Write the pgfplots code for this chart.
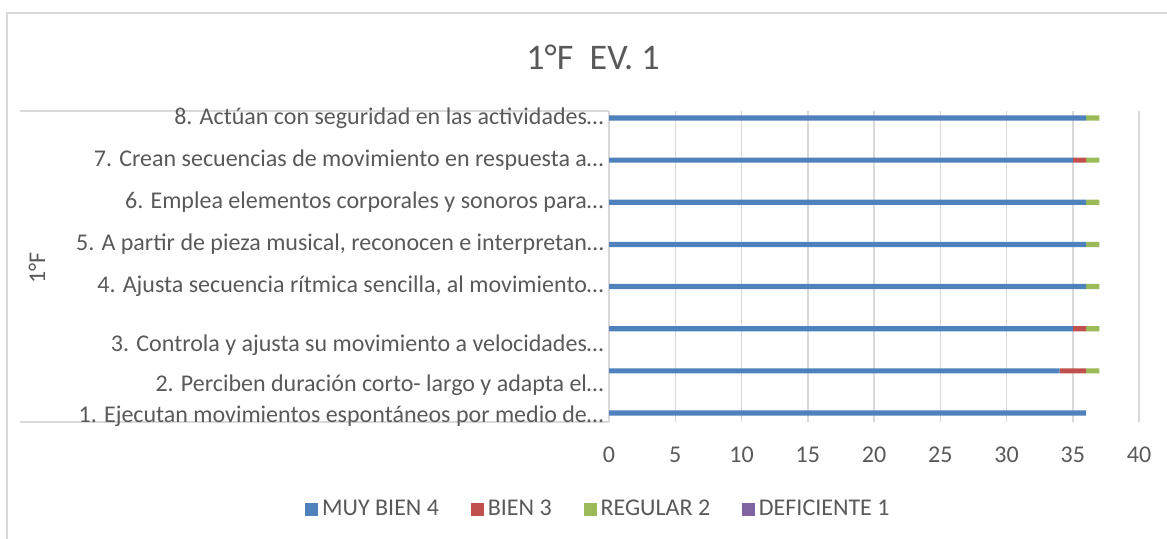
\documentclass[border=0pt]{standalone}
\usepackage{pgfplots}
\pgfplotsset{compat=1.18}
\usepackage{fontspec}
\setmainfont{Carlito}
\definecolor{cblue}{HTML}{4F81BD}
\definecolor{cred}{HTML}{C0504D}
\definecolor{cgreen}{HTML}{9BBB59}
\definecolor{cpurple}{HTML}{8064A2}
\definecolor{ctext}{HTML}{595959}
\definecolor{cgrid}{HTML}{D9D9D9}
\begin{document}
\begin{tikzpicture}
\path[use as bounding box] (0pt,0pt) rectangle (583.5pt,-269pt);
\draw[cgrid, line width=1pt] (3.5pt,-275pt) -- (3.5pt,-6.5pt) -- (590pt,-6.5pt);
\node[text=ctext, font=\fontsize{18}{21}\selectfont] at (296.5pt,-28.5pt) {1°F\ \ EV. 1};
\node[text=ctext, font=\fontsize{12}{14}\selectfont, rotate=90] at (18.5pt,-134pt) {1°F};
\draw[cgrid, line width=0.75pt] (10pt,-55.5pt) -- (304.5pt,-55.5pt);
\draw[cgrid, line width=0.75pt] (10pt,-211pt) -- (304.5pt,-211pt);
\begin{axis}[
  at={(304.5pt,-211pt)}, anchor=south west,
  scale only axis, width=265pt, height=155.5pt,
  xbar stacked, bar width=2.6pt,
  xmin=0, xmax=40, ymin=0.786, ymax=8.166,
  xtick={0,5,...,40},
  ytick={0.93,1.65,2.62,4,5,6,7,8},
  yticklabels={
    1. Ejecutan movimientos espontáneos por medio de…,
    2. Perciben duración corto- largo y adapta el…,
    3. Controla y ajusta su movimiento a velocidades…,
    4. Ajusta secuencia rítmica sencilla{,} al movimiento…,
    5. A partir de pieza musical{,} reconocen e interpretan…,
    6. Emplea elementos corporales y sonoros para…,
    7. Crean secuencias de movimiento en respuesta a…,
    8. Actúan con seguridad en las actividades…},
  major tick length=0pt,
  axis line style={draw=none},
  xmajorgrids, major grid style={cgrid, line width=0.75pt},
  /pgf/number format/assume math mode=true,
  tick label style={text=ctext, font=\fontsize{12}{14}\selectfont},
  yticklabel style={inner xsep=0pt, xshift=-2.5pt},
  xticklabel style={yshift=-9pt},
  legend columns=4,
  legend style={at={(axis description cs:-0.018,-0.28)}, anchor=center, draw=none,
    font=\fontsize{12}{14}\selectfont, text=ctext,
    /tikz/every even column/.append style={column sep=14pt}},
  legend image code/.code={\path[#1, draw=none] (0pt,-3.2pt) rectangle (6.4pt,3.2pt);},
]
\addplot[fill=cblue, draw=none] coordinates {(36,1) (34,2) (35,3) (36,4) (36,5) (36,6) (35,7) (36,8)};
\addplot[fill=cred, draw=none] coordinates {(0,1) (2,2) (1,3) (0,4) (0,5) (0,6) (1,7) (0,8)};
\addplot[fill=cgreen, draw=none] coordinates {(0,1) (1,2) (1,3) (1,4) (1,5) (1,6) (1,7) (1,8)};
\addplot[fill=cpurple, draw=none] coordinates {(0,1) (0,2) (0,3) (0,4) (0,5) (0,6) (0,7) (0,8)};
\legend{MUY BIEN 4, BIEN 3, REGULAR 2, DEFICIENTE 1}
\end{axis}
\end{tikzpicture}
\end{document}
